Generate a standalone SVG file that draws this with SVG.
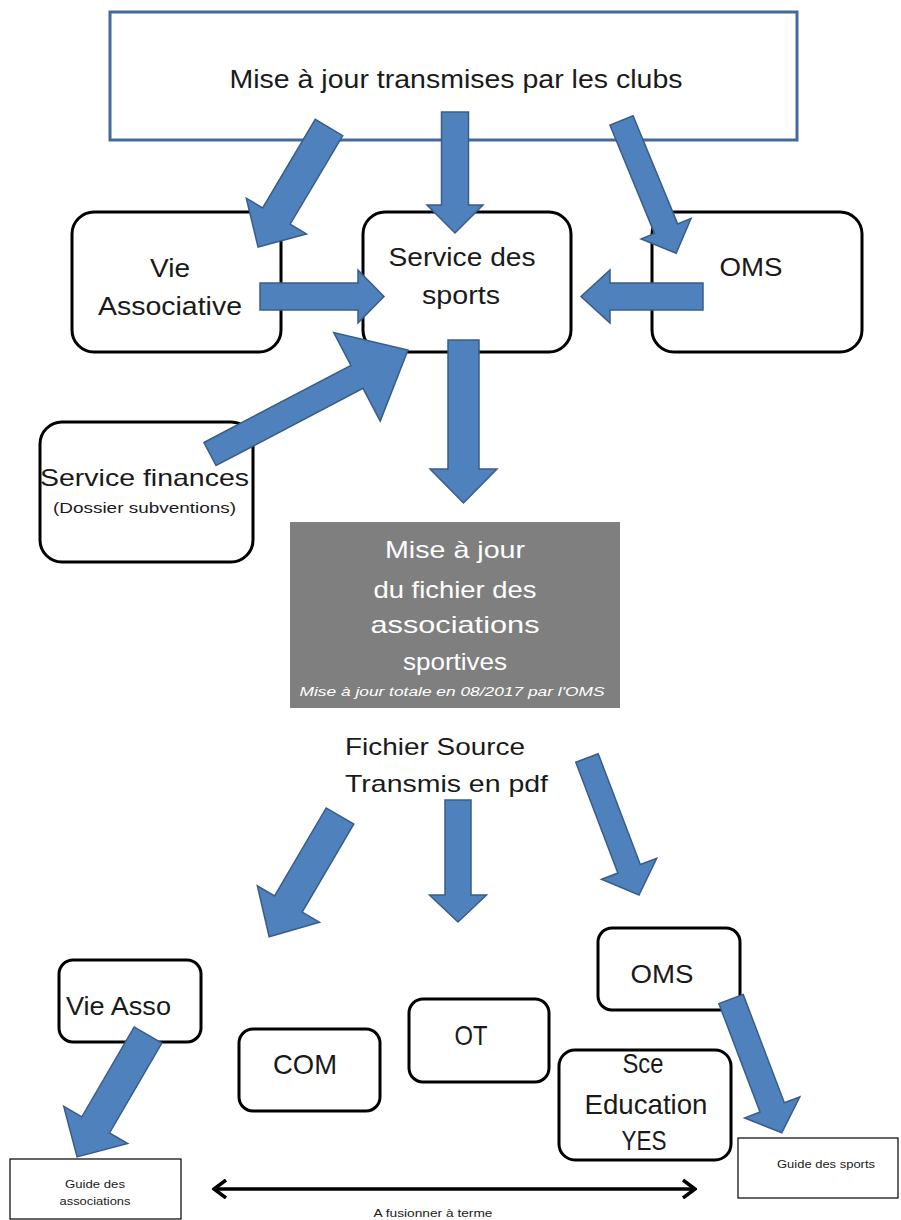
<svg xmlns="http://www.w3.org/2000/svg" width="901" height="1220" viewBox="0 0 901 1220">
<style>
text{font-family:"Liberation Sans",Arial,sans-serif;fill:#1a1a1a}
.big{font-size:24px}
.b25{font-size:25px}
.b26{font-size:26px}
.b28{font-size:28px}
.mid{font-size:15px}
.sm{font-size:10.5px}
.wt{fill:#ffffff}
.box{fill:#ffffff;stroke:#000000;stroke-width:3}
.thin{fill:#ffffff;stroke:#000000;stroke-width:1.2}
.arr{fill:#4f81bd;stroke:#385d8a;stroke-width:1.5;stroke-linejoin:miter}
</style>
<defs>
<marker id="chev" viewBox="0 0 16 20" refX="14" refY="10" markerWidth="16" markerHeight="20" markerUnits="userSpaceOnUse" orient="auto-start-reverse">
<path d="M2,1 L14,10 L2,19" fill="none" stroke="#000" stroke-width="3.5"/>
</marker>
</defs>
<rect width="901" height="1220" fill="#ffffff"/>

<g id="clubs">
<rect x="110" y="12" width="687" height="128" fill="#ffffff" stroke="#46699b" stroke-width="3"/>
<text class="b25" x="456" y="88" text-anchor="middle" textLength="453" lengthAdjust="spacingAndGlyphs">Mise à jour transmises par les clubs</text>
</g>

<g id="vie-associative">
<rect class="box" x="72" y="212" width="209" height="140" rx="22"/>
<text class="b26" x="170" y="277" text-anchor="middle" textLength="40" lengthAdjust="spacingAndGlyphs">Vie</text>
<text class="b26" x="170" y="315" text-anchor="middle" textLength="144" lengthAdjust="spacingAndGlyphs">Associative</text>
</g>

<g id="service-sports">
<rect class="box" x="363" y="212" width="208" height="140" rx="22"/>
<text class="b25" x="462" y="266" text-anchor="middle" textLength="147" lengthAdjust="spacingAndGlyphs">Service des</text>
<text class="b25" x="461" y="304" text-anchor="middle" textLength="78" lengthAdjust="spacingAndGlyphs">sports</text>
</g>

<g id="oms-top">
<rect class="box" x="652" y="212" width="210" height="140" rx="22"/>
<text class="b26" x="751" y="276" text-anchor="middle" textLength="63" lengthAdjust="spacingAndGlyphs">OMS</text>
</g>

<g id="service-finances">
<rect class="box" x="40" y="422" width="213" height="140" rx="22"/>
<text class="big" x="144.5" y="486" text-anchor="middle" textLength="209" lengthAdjust="spacingAndGlyphs">Service finances</text>
<text class="mid" x="144.5" y="513" text-anchor="middle" textLength="183" lengthAdjust="spacingAndGlyphs">(Dossier subventions)</text>
</g>

<g id="fichier-associations">
<rect x="290" y="522" width="330" height="186" fill="#7f7f7f"/>
<text class="big wt" x="455" y="558" text-anchor="middle" textLength="140" lengthAdjust="spacingAndGlyphs">Mise à jour</text>
<text class="big wt" x="455" y="598" text-anchor="middle" textLength="163" lengthAdjust="spacingAndGlyphs">du fichier des</text>
<text class="big wt" x="455" y="633" text-anchor="middle" textLength="169" lengthAdjust="spacingAndGlyphs">associations</text>
<text class="big wt" x="455" y="670" text-anchor="middle" textLength="104" lengthAdjust="spacingAndGlyphs">sportives</text>
<text class="wt" x="452" y="696" text-anchor="middle" font-size="13.5" font-style="italic" textLength="305" lengthAdjust="spacingAndGlyphs">Mise à jour totale en 08/2017 par l'OMS</text>
</g>

<g id="fichier-source">
<text class="big" x="345" y="755" textLength="180" lengthAdjust="spacingAndGlyphs">Fichier Source</text>
<text class="big" x="345" y="792" textLength="203" lengthAdjust="spacingAndGlyphs">Transmis en pdf</text>
</g>

<g id="vie-asso">
<rect class="box" x="59" y="960" width="142" height="82" rx="14"/>
<text class="b26" x="66" y="1015" textLength="105" lengthAdjust="spacingAndGlyphs">Vie Asso</text>
</g>

<g id="com">
<rect class="box" x="239" y="1029" width="141" height="82" rx="14"/>
<text class="b28" x="305" y="1074" text-anchor="middle" textLength="64" lengthAdjust="spacingAndGlyphs">COM</text>
</g>

<g id="ot">
<rect class="box" x="409" y="999" width="140" height="83" rx="14"/>
<text class="b28" x="471" y="1045" text-anchor="middle" textLength="33" lengthAdjust="spacingAndGlyphs">OT</text>
</g>

<g id="oms-bottom">
<rect class="box" x="598" y="928" width="142" height="82" rx="14"/>
<text class="b26" x="662" y="983" text-anchor="middle" textLength="63" lengthAdjust="spacingAndGlyphs">OMS</text>
</g>

<g id="sce-education">
<rect class="box" x="559" y="1050" width="172" height="110" rx="16"/>
<text class="b28" x="643" y="1073" text-anchor="middle" textLength="41" lengthAdjust="spacingAndGlyphs">Sce</text>
<text class="b28" x="646" y="1114" text-anchor="middle" textLength="123" lengthAdjust="spacingAndGlyphs">Education</text>
<text class="b28" x="644" y="1150" text-anchor="middle" textLength="45" lengthAdjust="spacingAndGlyphs">YES</text>
</g>

<g id="guide-associations">
<rect class="thin" x="10" y="1159" width="171" height="60"/>
<text class="sm" x="95" y="1188" text-anchor="middle" textLength="60" lengthAdjust="spacingAndGlyphs">Guide des</text>
<text class="sm" x="95" y="1205" text-anchor="middle" textLength="71" lengthAdjust="spacingAndGlyphs">associations</text>
</g>

<g id="guide-sports">
<rect class="thin" x="738" y="1138" width="160" height="60"/>
<text class="sm" x="826" y="1168" text-anchor="middle" textLength="98" lengthAdjust="spacingAndGlyphs">Guide des sports</text>
</g>

<g id="connectors">
<polygon class="arr" transform="translate(329,127.5) rotate(120.7)" points="0,-16 103,-16 103,-35 139,0 103,35 103,16 0,16"/>
<polygon class="arr" transform="translate(455,112) rotate(90)" points="0,-13.5 93,-13.5 93,-28 121,0 93,28 93,13.5 0,13.5"/>
<polygon class="arr" transform="translate(621.5,120.5) rotate(67.6)" points="0,-12.5 117,-12.5 117,-27 143.5,0 117,27 117,12.5 0,12.5"/>
<polygon class="arr" transform="translate(260,296.5)" points="0,-13.5 98,-13.5 98,-26.5 124,0 98,26.5 98,13.5 0,13.5"/>
<polygon class="arr" transform="translate(703,296.5) rotate(180)" points="0,-13.5 93,-13.5 93,-26.5 122,0 93,26.5 93,13.5 0,13.5"/>
<polygon class="arr" transform="translate(210,454) rotate(-27.7)" points="0,-13 166,-13 166,-50 223.6,0 166,50 166,13 0,13"/>
<polygon class="arr" transform="translate(463.5,340) rotate(90)" points="0,-15.5 129,-15.5 129,-33.5 163,0 129,33.5 129,15.5 0,15.5"/>
<polygon class="arr" transform="translate(340,816) rotate(120.4)" points="0,-16 102,-16 102,-36 140,0 102,36 102,16 0,16"/>
<polygon class="arr" transform="translate(458,800) rotate(90)" points="0,-13 95,-13 95,-28.5 122,0 95,28.5 95,13 0,13"/>
<polygon class="arr" transform="translate(587,758) rotate(69.2)" points="0,-12 118.5,-12 118.5,-29.5 146.5,0 118.5,29.5 118.5,12 0,12"/>
<polygon class="arr" transform="translate(148,1035) rotate(120.2)" points="0,-16 104,-16 104,-37 141,0 104,37 104,16 0,16"/>
<polygon class="arr" transform="translate(731,999) rotate(69.2)" points="0,-13 116,-13 116,-29.5 143,0 116,29.5 116,13 0,13"/>
<line x1="214" y1="1189" x2="695" y2="1189" stroke="#000" stroke-width="3.5" marker-start="url(#chev)" marker-end="url(#chev)"/>
<text class="sm" x="433" y="1217" text-anchor="middle" textLength="119" lengthAdjust="spacingAndGlyphs">A fusionner à terme</text>
</g>
</svg>
